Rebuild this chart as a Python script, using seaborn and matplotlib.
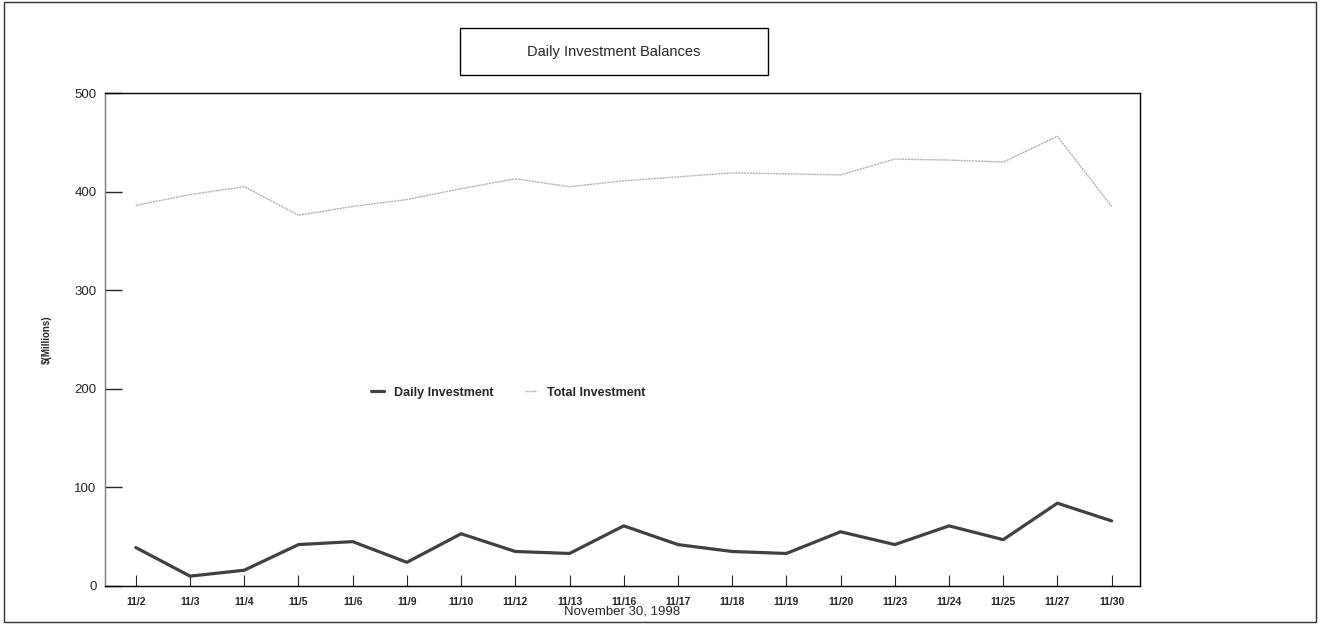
import matplotlib
matplotlib.use("Agg")
import matplotlib.pyplot as plt
from matplotlib.patches import Rectangle
from matplotlib.lines import Line2D
import seaborn as sns
import pandas as pd

dates = ["11/2", "11/3", "11/4", "11/5", "11/6", "11/9", "11/10", "11/12", "11/13",
         "11/16", "11/17", "11/18", "11/19", "11/20", "11/23", "11/24", "11/25",
         "11/27", "11/30"]
daily_investment = [39, 10, 16, 42, 45, 24, 53, 35, 33, 61, 42, 35, 33, 55, 42, 61, 47, 84, 66]
total_investment = [386, 397, 405, 376, 385, 392, 403, 413, 405, 411, 415, 419, 418, 417,
                    433, 432, 430, 456, 385]
series_names = ["Daily Investment", "Total Investment"]
y_ticks = [0, 100, 200, 300, 400, 500]

sns.set_theme(style="white")
plt.rcParams["font.family"] = ["Liberation Sans", "DejaVu Sans"]

df = pd.DataFrame({
    "date": dates * 2,
    "pos": list(range(len(dates))) * 2,
    "value": daily_investment + total_investment,
    "series": [series_names[0]] * len(dates) + [series_names[1]] * len(dates),
})

fig = plt.figure(figsize=(13.2, 6.24), dpi=100)
ax = fig.add_axes([0.0795, 0.0609, 0.784, 0.790])

sns.lineplot(data=df, x="pos", y="value", hue="series", sort=False,
             palette={series_names[0]: "#404040", series_names[1]: "#b0b0b0"},
             ax=ax, legend=False)
lines = ax.get_lines()
lines[0].set_linewidth(2.3)
lines[1].set_linewidth(1.0)
lines[1].set_linestyle((0, (1.5, 0.6)))

ax.set_xlim(-0.57, 18.52)
ax.set_ylim(0, 500)
ax.set_yticks(y_ticks)
ax.set_yticklabels([str(v) for v in y_ticks], fontsize=9.5)
ax.set_xticks(range(len(dates)))
ax.set_xticklabels(dates, fontsize=7.5, fontweight="bold")
ax.tick_params(axis="y", direction="in", length=12, width=1, pad=6, left=True)
ax.tick_params(axis="x", direction="in", length=8, width=0.8, pad=8, bottom=True)
for s in ax.spines.values():
    s.set_color("black")
    s.set_linewidth(1.0)
ax.spines["left"].set_color("#777777")

ax.set_xlabel("November 30, 1998", fontsize=9.5, labelpad=-1)
ax.set_ylabel("$(Millions)", fontsize=7, fontweight="bold", labelpad=16)

handles = [Line2D([], [], color="#404040", lw=2.3),
           Line2D([], [], color="#b0b0b0", lw=1.0, ls=(0, (1.5, 0.6)))]
ax.legend(handles, series_names, loc="center", bbox_to_anchor=(0.39, 0.392), ncol=2,
          frameon=False, handlelength=1.0, columnspacing=2.5,
          prop={"weight": "bold", "size": 9})

# title box
fig.add_artist(Rectangle((0.3485, 0.8798), 0.2333, 0.0753, transform=fig.transFigure,
                         fill=False, edgecolor="black", linewidth=1.0))
fig.text(0.465, 0.9165, "Daily Investment Balances", ha="center", va="center", fontsize=10.5)

# outer border
fig.add_artist(Rectangle((0.003, 0.003), 0.994, 0.994, transform=fig.transFigure,
                         fill=False, edgecolor="#333333", linewidth=1.0))

fig.savefig("out.png", dpi=100)
